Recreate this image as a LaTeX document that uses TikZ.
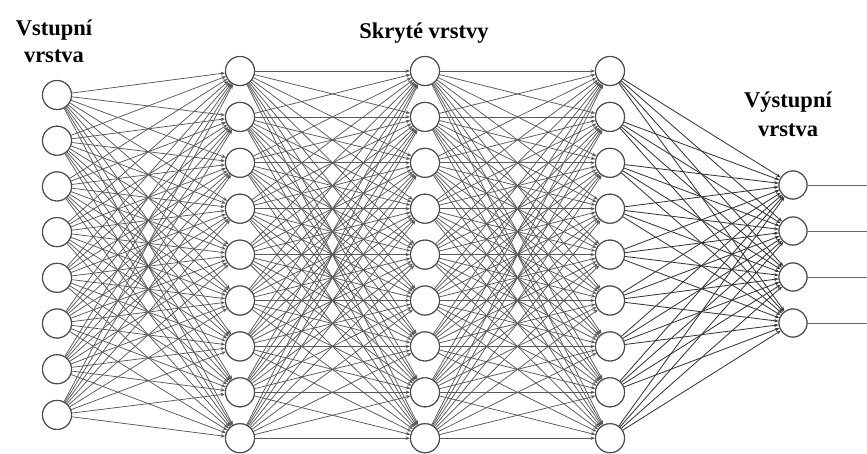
\documentclass[tikz,border=0pt]{standalone}
\usepackage{fontspec}
\setmainfont{Liberation Serif}
\usetikzlibrary{arrows.meta}
\begin{document}
\begin{tikzpicture}[x=1pt,y=-1pt,
  neuron/.style={circle,draw=black!70,line width=1.1pt,fill=white,minimum size=29pt,inner sep=0pt},
  conn/.style={draw=black!65,line width=0.75pt,-{Stealth[length=4.5pt,width=3.5pt]}},
  conndark/.style={draw=black!78,line width=0.85pt,-{Stealth[length=4.5pt,width=3.5pt]}},
  outline/.style={draw=black!60,line width=1pt},
  lab/.style={font=\bfseries\fontsize{22.5}{28}\selectfont,align=center,text=black}]
\useasboundingbox (0,0) rectangle (867,453);
% nodes
\foreach \i in {1,...,8} \node[neuron] (a\i) at (57,{95+(\i-1)*45.7}) {};
\foreach \i in {1,...,9} {
  \node[neuron] (b\i) at (240,{71+(\i-1)*45.9}) {};
  \node[neuron] (c\i) at (425,{71+(\i-1)*45.9}) {};
  \node[neuron] (d\i) at (610,{71+(\i-1)*45.9}) {};
}
\foreach \i in {1,...,4} \node[neuron,minimum size=28pt] (e\i) at (793,{185+(\i-1)*46}) {};
% connections
\foreach \i in {1,...,8} \foreach \j in {1,...,9} \draw[conn] (a\i) -- (b\j);
\foreach \i in {1,...,9} \foreach \j in {1,...,9} \draw[conn] (b\i) -- (c\j);
\foreach \i in {1,...,9} \foreach \j in {1,...,9} \draw[conn] (c\i) -- (d\j);
\foreach \i in {1,...,9} \foreach \j in {1,...,4} \draw[conndark] (d\i) -- (e\j);
% redraw nodes on top
\foreach \i in {1,...,8} \node[neuron] at (a\i) {};
\foreach \i in {1,...,9} {\node[neuron] at (b\i) {}; \node[neuron] at (c\i) {}; \node[neuron] at (d\i) {};}
\foreach \i in {1,...,4} \node[neuron,minimum size=28pt] at (e\i) {};
% output lines
\foreach \i in {1,...,4} {
  \coordinate (o\i) at (867,{185+(\i-1)*46});
  \draw[outline] (e\i) -- (o\i);
}
% labels
\node[lab,anchor=base] (l1) at (54,35) {Vstupní};
\node[lab,anchor=base] (l1b) at (54,62) {vrstva};
\node[lab,anchor=base] (l2) at (424,38) {Skryté vrstvy};
\node[lab,anchor=base] (l3) at (788,107) {Výstupní};
\node[lab,anchor=base] (l3b) at (788,136) {vrstva};
\end{tikzpicture}
\end{document}
